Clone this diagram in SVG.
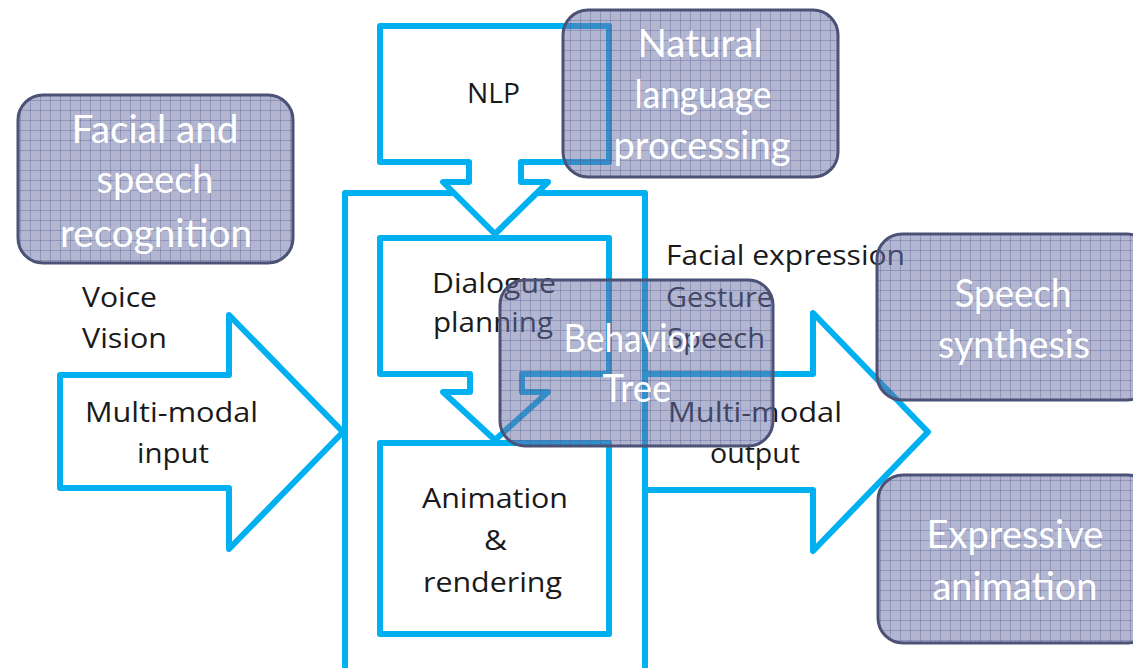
<svg xmlns="http://www.w3.org/2000/svg" width="1133" height="668" viewBox="0 0 1133 668">
  <defs>
    <!-- translucent hatched fill used by the annotation boxes -->
    <pattern id="hatch" width="10" height="10" patternUnits="userSpaceOnUse">
      <rect width="10" height="10" fill="#666da4" fill-opacity="0.5"/>
      <path d="M0,0.5H10M0.5,0V10" stroke="#4f578f" stroke-opacity="0.35" stroke-width="1" fill="none"/>
    </pattern>
    <style>
      .flow { fill: #ffffff; stroke: #00b0f0; stroke-width: 6; stroke-linejoin: round; }
      .lbl { font-family: "Open Sans", "Liberation Sans", sans-serif; font-size: 27px; fill: #1a1a1a; }
      .note { fill: url(#hatch); stroke: #4b5275; stroke-width: 3; }
      .noteTxt { font-family: Lato, "Open Sans", sans-serif; font-size: 38px; fill: #ffffff; text-anchor: middle; }
    </style>
  </defs>
  <rect width="1133" height="668" fill="#ffffff"/>

  <!-- connectors: block arrows in and out of the system container -->
  <g id="connectors">
    <polygon class="flow" points="60,375 229,375 229,315 343,432 229,549 229,488 60,488"/>
    <polygon class="flow" points="645,374 813,374 813,313 928,432 813,551 813,490 645,490"/>
  </g>

  <!-- system container -->
  <g id="container">
    <rect class="flow" x="345" y="193" width="300" height="490" style="fill:none"/>
  </g>

  <g id="nlp">
    <polygon class="flow" points="380,26 609,26 609,162 521,162 521,182 548,182 495,234 443,182 469,182 469,162 380,162"/>
    <text class="lbl" x="467" y="103" textLength="53" lengthAdjust="spacingAndGlyphs">NLP</text>
  </g>

  <g id="dialogue">
    <polygon class="flow" points="380,238 609,238 609,374 522,374 522,392 548,392 495,440 443,392 470,392 470,374 380,374"/>
    <text class="lbl" x="432" y="293" textLength="124" lengthAdjust="spacingAndGlyphs">Dialogue</text>
    <text class="lbl" x="433" y="332" textLength="120" lengthAdjust="spacingAndGlyphs">planning</text>
  </g>

  <g id="animation">
    <rect class="flow" x="380" y="443" width="229" height="191"/>
    <text class="lbl" x="422" y="508" textLength="146" lengthAdjust="spacingAndGlyphs">Animation</text>
    <text class="lbl" x="484" y="550" textLength="23" lengthAdjust="spacingAndGlyphs">&amp;</text>
    <text class="lbl" x="423" y="592" textLength="139" lengthAdjust="spacingAndGlyphs">rendering</text>
  </g>

  <g id="input-labels">
    <text class="lbl" x="82" y="307" textLength="75" lengthAdjust="spacingAndGlyphs">Voice</text>
    <text class="lbl" x="82" y="348" textLength="85" lengthAdjust="spacingAndGlyphs">Vision</text>
    <text class="lbl" x="85" y="422" textLength="173" lengthAdjust="spacingAndGlyphs">Multi-modal</text>
    <text class="lbl" x="137" y="463" textLength="72" lengthAdjust="spacingAndGlyphs">input</text>
  </g>

  <g id="output-labels">
    <text class="lbl" x="666" y="265" textLength="239" lengthAdjust="spacingAndGlyphs">Facial expression</text>
    <text class="lbl" x="666" y="307" textLength="107" lengthAdjust="spacingAndGlyphs">Gesture</text>
    <text class="lbl" x="667" y="348" textLength="98" lengthAdjust="spacingAndGlyphs">Speech</text>
    <text class="lbl" x="668" y="422" textLength="174" lengthAdjust="spacingAndGlyphs">Multi-modal</text>
    <text class="lbl" x="710" y="463" textLength="90" lengthAdjust="spacingAndGlyphs">output</text>
  </g>

  <!-- annotation boxes -->
  <g id="recognition">
    <rect class="note" x="18" y="95" width="275" height="168" rx="25"/>
    <text class="noteTxt" x="155" y="143" textLength="167" lengthAdjust="spacingAndGlyphs">Facial and</text>
    <text class="noteTxt" x="155" y="193" textLength="117" lengthAdjust="spacingAndGlyphs">speech</text>
    <text class="noteTxt" x="156" y="247" textLength="192" lengthAdjust="spacingAndGlyphs">recognition</text>
  </g>

  <g id="language">
    <rect class="note" x="563" y="10" width="275" height="167" rx="25"/>
    <text class="noteTxt" x="700" y="57" textLength="125" lengthAdjust="spacingAndGlyphs">Natural</text>
    <text class="noteTxt" x="703" y="108" textLength="137" lengthAdjust="spacingAndGlyphs">language</text>
    <text class="noteTxt" x="702" y="159" textLength="177" lengthAdjust="spacingAndGlyphs">processing</text>
  </g>

  <g id="behavior">
    <rect class="note" x="500" y="280" width="273" height="166" rx="25"/>
    <text class="noteTxt" x="632" y="352" textLength="137" lengthAdjust="spacingAndGlyphs">Behavior</text>
    <text class="noteTxt" x="637" y="402" textLength="69" lengthAdjust="spacingAndGlyphs">Tree</text>
  </g>

  <g id="synthesis">
    <rect class="note" x="877" y="234" width="275" height="166" rx="25"/>
    <text class="noteTxt" x="1013" y="307" textLength="117" lengthAdjust="spacingAndGlyphs">Speech</text>
    <text class="noteTxt" x="1014" y="358" textLength="152" lengthAdjust="spacingAndGlyphs">synthesis</text>
  </g>

  <g id="expressive">
    <rect class="note" x="878" y="475" width="275" height="168" rx="25"/>
    <text class="noteTxt" x="1015" y="548" textLength="177" lengthAdjust="spacingAndGlyphs">Expressive</text>
    <text class="noteTxt" x="1015" y="600" textLength="165" lengthAdjust="spacingAndGlyphs">animation</text>
  </g>
</svg>
